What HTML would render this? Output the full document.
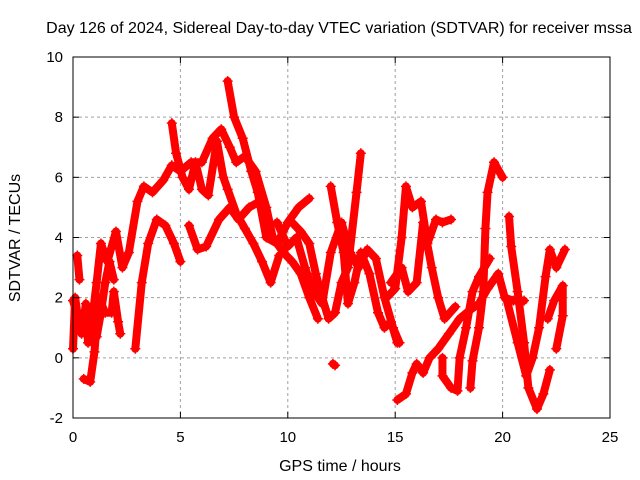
<!DOCTYPE html>
<html><head><meta charset="utf-8"><style>
body{margin:0;background:#fff}
svg{display:block;font-family:"Liberation Sans",sans-serif}
</style></head><body>
<svg id="chart" width="640" height="480" viewBox="0 0 640 480">
<rect width="640" height="480" fill="#fff"/>
<text x="339" y="33" font-size="16" text-anchor="middle">Day 126 of 2024, Sidereal Day-to-day VTEC variation (SDTVAR) for receiver mssa</text>
<g id="grid"></g><g id="series"></g><g id="axes"></g>
<text x="340" y="471" font-size="16" text-anchor="middle">GPS time / hours</text>
<text transform="translate(20,238) rotate(-90)" font-size="16" text-anchor="middle">SDTVAR / TECUs</text>
</svg>
<script>
const xTicks=[0,5,10,15,20,25];
const yTicks=[-2,0,2,4,6,8,10];
const track0=[[0,0.3],[0.1,2.0],[0.2,1.5],[0.4,0.8],[0.6,1.8],[0.7,0.5],[0.9,1.0],[1.1,0.7],[1.3,1.5],[1.5,2.5],[1.7,3.2],[1.9,2.6]];
const track1=[[0,1.9],[0.3,1.2],[0.6,0.8],[0.9,1.3],[1.1,2.5],[1.3,3.8],[1.6,3.2],[2,4.2],[2.3,3.0],[2.6,3.5],[3,5.2],[3.3,5.7],[3.7,5.5],[4.2,5.9],[4.6,6.4],[5,6.2],[5.5,6.5],[6,6.5],[6.5,7.3],[6.9,7.6],[7.3,7.0],[7.6,6.5],[8,6.7],[8.5,6.2],[9,5.0],[9.3,4.0],[9.8,3.5],[10.2,3.2],[10.6,2.8],[11,2.0],[11.4,1.3]];
const track2=[[0.2,3.4],[0.3,2.6]];
const track3=[[0.5,-0.7],[0.8,-0.8],[1.0,0.2],[1.2,2.0],[1.5,1.5],[1.8,1.5],[1.9,2.2],[2.1,1.2],[2.2,0.8]];
const track4=[[2.9,0.3],[3.2,2.5],[3.5,3.8],[3.9,4.6],[4.3,4.4],[4.7,3.8],[5,3.2]];
const track5=[[5.4,4.4],[5.8,3.6],[6.2,3.7],[6.8,4.6],[7.3,5.0],[7.7,4.6],[8.2,5.0],[8.7,5.2],[9.0,4.4],[9.3,4.0]];
const track6=[[7.2,9.2],[7.5,8.0],[7.9,7.3],[8.3,6.2],[8.6,5.5],[9,4.0],[9.5,3.8],[10,4.5],[10.5,5.0],[11,5.3]];
const track7=[[4.6,7.8],[4.8,6.8],[5.1,6.0],[5.4,5.6],[5.7,6.5],[6,5.6],[6.3,5.4],[6.7,7.2],[7,6.0],[7.2,5.6],[7.6,4.8],[8,4.3],[8.4,3.8],[8.8,3.2],[9.2,2.5],[9.6,3.4]];
const track8=[[9.5,4.5],[10,3.7],[10.4,4.0],[10.8,3.0],[11.2,2.2],[11.6,1.8],[12,3.5],[12.5,4.5],[12.9,3.5],[13.3,3.0],[13.7,3.6],[14.1,3.3],[14.5,2.0],[14.9,1.0],[15.2,0.5]];
const track9=[[10.2,4.5],[10.6,4.2],[11,3.8],[11.3,2.8],[11.6,2.0],[11.9,1.3],[12.2,1.5],[12.5,2.5],[12.8,3.0],[13.2,5.5],[13.4,6.8]];
const track10=[[12,5.7],[12.3,4.5],[12.6,3.5],[12.8,1.8],[13.1,2.5],[13.4,3.5],[13.8,2.8],[14.2,1.5],[14.5,1.0],[14.8,1.2],[15.1,0.5]];
const track11=[[14.6,2.0],[15,2.3],[15.3,4.0],[15.5,5.7],[15.8,5.0],[16.2,5.2],[16.5,3.8],[16.6,4.0],[16.9,4.6],[17.2,4.5],[17.6,4.6]];
const track12=[[14.8,2.5],[15.3,3.0],[15.6,2.2],[16,2.5],[16.3,4.5],[16.7,3.0],[17,2.0],[17.3,1.3],[17.8,1.7]];
const track13=[[15.1,-1.4],[15.5,-1.2],[15.8,-0.5],[16,-0.2],[16.3,-0.5],[16.6,0],[17,0.3],[17.5,0.8],[18,1.3],[18.5,1.6],[18.9,1.8],[19.3,2.3],[19.8,2.8],[20.1,2.0],[20.5,1.9],[21,1.9]];
const track14=[[17.2,0.0],[17.2,-0.6],[17.6,-1.0],[17.9,-1.1],[18.0,0.0],[18.3,1.0],[18.6,2.2],[18.9,2.7],[19.4,3.3]];
const track15=[[18.5,-1.0],[18.6,-0.1],[18.9,1.0],[19.1,2.2],[19.2,4.3],[19.3,5.5],[19.6,6.5],[20.0,6.0]];
const track16=[[20.3,4.7],[20.4,3.7],[20.7,2.2],[21.0,0.5],[21.2,-1.0],[21.6,-1.7],[21.9,-1.2],[22.2,-0.4]];
const track17=[[20.2,1.9],[20.7,0.5],[21.1,-0.6],[21.4,0],[21.7,1.0],[22.0,2.7],[22.2,3.6],[22.5,3.0],[22.9,3.6]];
const track18=[[22.1,1.3],[22.4,1.9],[22.8,2.4],[22.8,1.4],[22.5,0.3]];
const track19=[[12.1,-0.2],[12.2,-0.25]];
const tracks=[track0,track1,track2,track3,track4,track5,track6,track7,track8,track9,track10,track11,track12,track13,track14,track15,track16,track17,track18,track19];

const L=73,R=610,T=57,B=418;
const xs=v=>L+(v-0)/25*(R-L);
const ys=v=>B-(v+2)/12*(B-T);
const NS='http://www.w3.org/2000/svg';
const mk=(t,a,p)=>{const e=document.createElementNS(NS,t);for(const k in a)e.setAttribute(k,a[k]);p.appendChild(e);return e;};
const grid=document.getElementById('grid'),axes=document.getElementById('axes'),ser=document.getElementById('series');
xTicks.forEach(v=>{
  if(v>0&&v<25){const g=mk('line',{x1:xs(v),x2:xs(v),y1:T,y2:B,stroke:'#a0a0a0','stroke-dasharray':'3,3'},grid);
  
  }
  mk('line',{x1:xs(v),x2:xs(v),y1:B,y2:B-6,stroke:'#000'},axes);
  mk('line',{x1:xs(v),x2:xs(v),y1:T,y2:T+6,stroke:'#000'},axes);
  const t=mk('text',{x:xs(v),y:B+24,'font-size':15,'text-anchor':'middle'},axes);t.textContent=v;
  
  
});
yTicks.forEach(v=>{
  if(v>-2&&v<10){const g=mk('line',{x1:L,x2:R,y1:ys(v),y2:ys(v),stroke:'#a0a0a0','stroke-dasharray':'3,3'},grid);
  
  }
  mk('line',{x1:L,x2:L+6,y1:ys(v),y2:ys(v),stroke:'#000'},axes);
  mk('line',{x1:R,x2:R-6,y1:ys(v),y2:ys(v),stroke:'#000'},axes);
  const t=mk('text',{x:L-10,y:ys(v)+5,'font-size':15,'text-anchor':'end'},axes);t.textContent=v;
  
  
});
const frame=mk('rect',{x:L,y:T,width:R-L,height:B-T,fill:'none',stroke:'#000'},axes);


tracks.forEach(tr=>{
  const pl=mk('polyline',{points:tr.map(p=>xs(p[0])+','+ys(p[1])).join(' '),fill:'none',stroke:'#f00','stroke-width':8,'stroke-linejoin':'round','stroke-linecap':'round'},ser);
  
  
  tr.forEach(p=>{
    const x=xs(p[0]),y=ys(p[1]);
    const m=mk('path',{d:`M${x-5},${y}H${x+5}M${x},${y-5}V${y+5}`,stroke:'#f00','stroke-width':1.5},ser);
    
    
  });
});
</script>
</body></html>
